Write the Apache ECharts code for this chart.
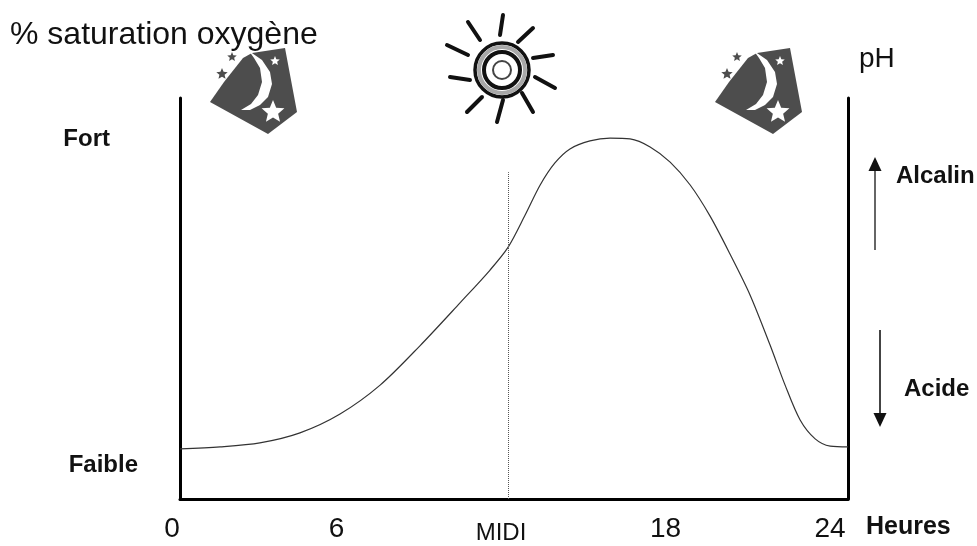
<!DOCTYPE html>
<html><head><meta charset="utf-8">
<style>html,body{margin:0;padding:0;background:#fff}#c{width:977px;height:546px}</style>
<script src="https://cdn.jsdelivr.net/npm/echarts@6/dist/echarts.min.js"></script></head>
<body><div id="c"></div>
<script>
const hours = [0,1.44,2.87,4.31,5.75,7.19,8.62,10.06,11.14,11.79,12.40,12.94,13.47,14.01,14.73,15.45,16.17,16.89,17.61,18.33,19.04,19.76,20.48,21.20,21.74,22.28,22.82,23.36,24];
const saturation = [12.5,13.0,14.0,16.5,21.2,28.4,38.2,48.9,57.1,62.8,70.8,78.3,83.8,87.3,89.3,90.0,89.8,87.8,84.0,78.3,70.6,61.1,50.9,38.4,28.4,19.7,15.0,13.2,13.0];
const hourTicks = [0,6,12,18,24];
const midiHour = 11.79, midiTop = 81.5;
const levelTicks = [8.5,89.8];
const levelNames = {8.5:'Faible',89.8:'Fort'};
const FONT = '"Liberation Sans", Arial, sans-serif';
const DARK = '#4d4d4d';

function star(cx,cy,r,fill){
  const pts=[];
  for(let i=0;i<10;i++){const a=-Math.PI/2+i*Math.PI/5,q=i%2?r*0.45:r;pts.push([cx+q*Math.cos(a),cy+q*Math.sin(a)]);}
  return {type:'polygon',shape:{points:pts},style:{fill}};
}
function moon(dx){
  return {type:'group',x:dx,y:0,children:[
    {type:'polygon',shape:{points:[[210,102],[224,82],[243,58],[252,53],[285,48],[297,112],[268,134]]},style:{fill:DARK}},
    {type:'polygon',shape:{points:[[249,51],[262,60],[270,72],[272,84],[268,97],[260,105],[250,110],[241,110],[251,104],[258,95],[262,82],[260,68],[254,58]]},style:{fill:'#fff'}},
    star(275,61,5,'#fff'),star(273,112,12,'#fff'),star(232,57,5,DARK),star(222,74,6,DARK)
  ]};
}
const rays=[[503,15,500,35],[533,28,518,42],[553,55,533,58],[555,88,535,77],[533,112,522,93],[497,122,503,100],[467,112,482,97],[450,77,470,80],[447,45,468,55],[468,22,480,40]];
const ring=(r,w,c)=>({type:'circle',shape:{cx:502,cy:70,r},style:{fill:'transparent',stroke:c,lineWidth:w}});
const sun={type:'group',children:[
  ...rays.map(p=>({type:'line',shape:{x1:p[0],y1:p[1],x2:p[2],y2:p[3]},style:{stroke:'#111',lineWidth:4,lineCap:'round'}})),
  ring(27,3.5,'#111'),ring(23,4,'#a8a8a8'),ring(18,4,'#111'),ring(9,2,'#444')
]};
const txt=(x,y,text,size,weight)=>({type:'text',x,y,style:{text,font:`${weight||'normal'} ${size}px ${FONT}`,fill:'#111',textAlign:'left',textVerticalAlign:'middle'}});
const arrow=(x,y1,y2,c)=>{const d=y2>y1?1:-1;return {type:'group',children:[
  {type:'line',shape:{x1:x,y1:y1,x2:x,y2:y2-d*8},style:{stroke:c,lineWidth:2}},
  {type:'polygon',shape:{points:[[x-6.5,y2-d*14],[x+6.5,y2-d*14],[x,y2]]},style:{fill:'#111'}}]};};

const chart=echarts.init(document.getElementById('c'),null,{renderer:'canvas'});
chart.setOption({
  animation:false,backgroundColor:'#fff',
  grid:[{left:180,right:129,top:98,bottom:47},{left:172,right:147,top:98,bottom:47}],
  xAxis:[
    {type:'value',gridIndex:0,min:0,max:24,splitLine:{show:false},axisTick:{show:false},axisLabel:{show:false},
     axisLine:{show:true,onZero:false,lineStyle:{color:'#000',width:3}}},
    {type:'value',gridIndex:1,min:0,max:24,splitLine:{show:false},axisTick:{show:false},axisLine:{show:false},
     axisLabel:{show:true,customValues:hourTicks,margin:16,hideOverlap:false,
       formatter:v=>v===12?'{m|MIDI}':`{n|${v}}`,
       rich:{n:{fontFamily:FONT,fontSize:28,color:'#111'},m:{fontFamily:FONT,fontSize:24,color:'#111',padding:[6,0,0,0]}}}}
  ],
  yAxis:[
    {type:'value',gridIndex:0,min:0,max:100,position:'left',splitLine:{show:false},axisTick:{show:false},
     axisLine:{show:true,onZero:false,lineStyle:{color:'#000',width:3}},
     axisLabel:{show:true,customValues:levelTicks,margin:42,
       formatter:v=>v===89.8?`{f|${levelNames[v]}}`:`{b|${levelNames[v]}}`,
       rich:{f:{fontFamily:FONT,fontSize:24,fontWeight:'bold',color:'#111',padding:[0,28,0,0]},b:{fontFamily:FONT,fontSize:24,fontWeight:'bold',color:'#111'}}}},
    {type:'value',gridIndex:0,min:0,max:100,position:'right',splitLine:{show:false},axisTick:{show:false},axisLabel:{show:false},
     axisLine:{show:true,onZero:false,lineStyle:{color:'#000',width:3}}},
    {type:'value',gridIndex:1,min:0,max:100,show:false}
  ],
  series:[{type:'line',xAxisIndex:0,yAxisIndex:0,data:hours.map((h,i)=>[h,saturation[i]]),smooth:0.3,showSymbol:false,
    lineStyle:{color:'#333',width:1.2},silent:true,
    markLine:{silent:true,symbol:'none',label:{show:false},lineStyle:{color:'#555',type:'dotted',width:1},
      data:[[{coord:[midiHour,0]},{coord:[midiHour,midiTop]}]]}}],
  graphic:[
    txt(10,35,'% saturation oxygène',32),
    txt(859,59,'pH',28),
    txt(896,176,'Alcalin',24,'bold'),
    txt(904,389,'Acide',24,'bold'),
    txt(866,527,'Heures',25,'bold'),
    arrow(875,250,157,'#666'),
    arrow(880,330,427,'#444'),
    moon(0),moon(505),sun
  ]
});
</script></body></html>
